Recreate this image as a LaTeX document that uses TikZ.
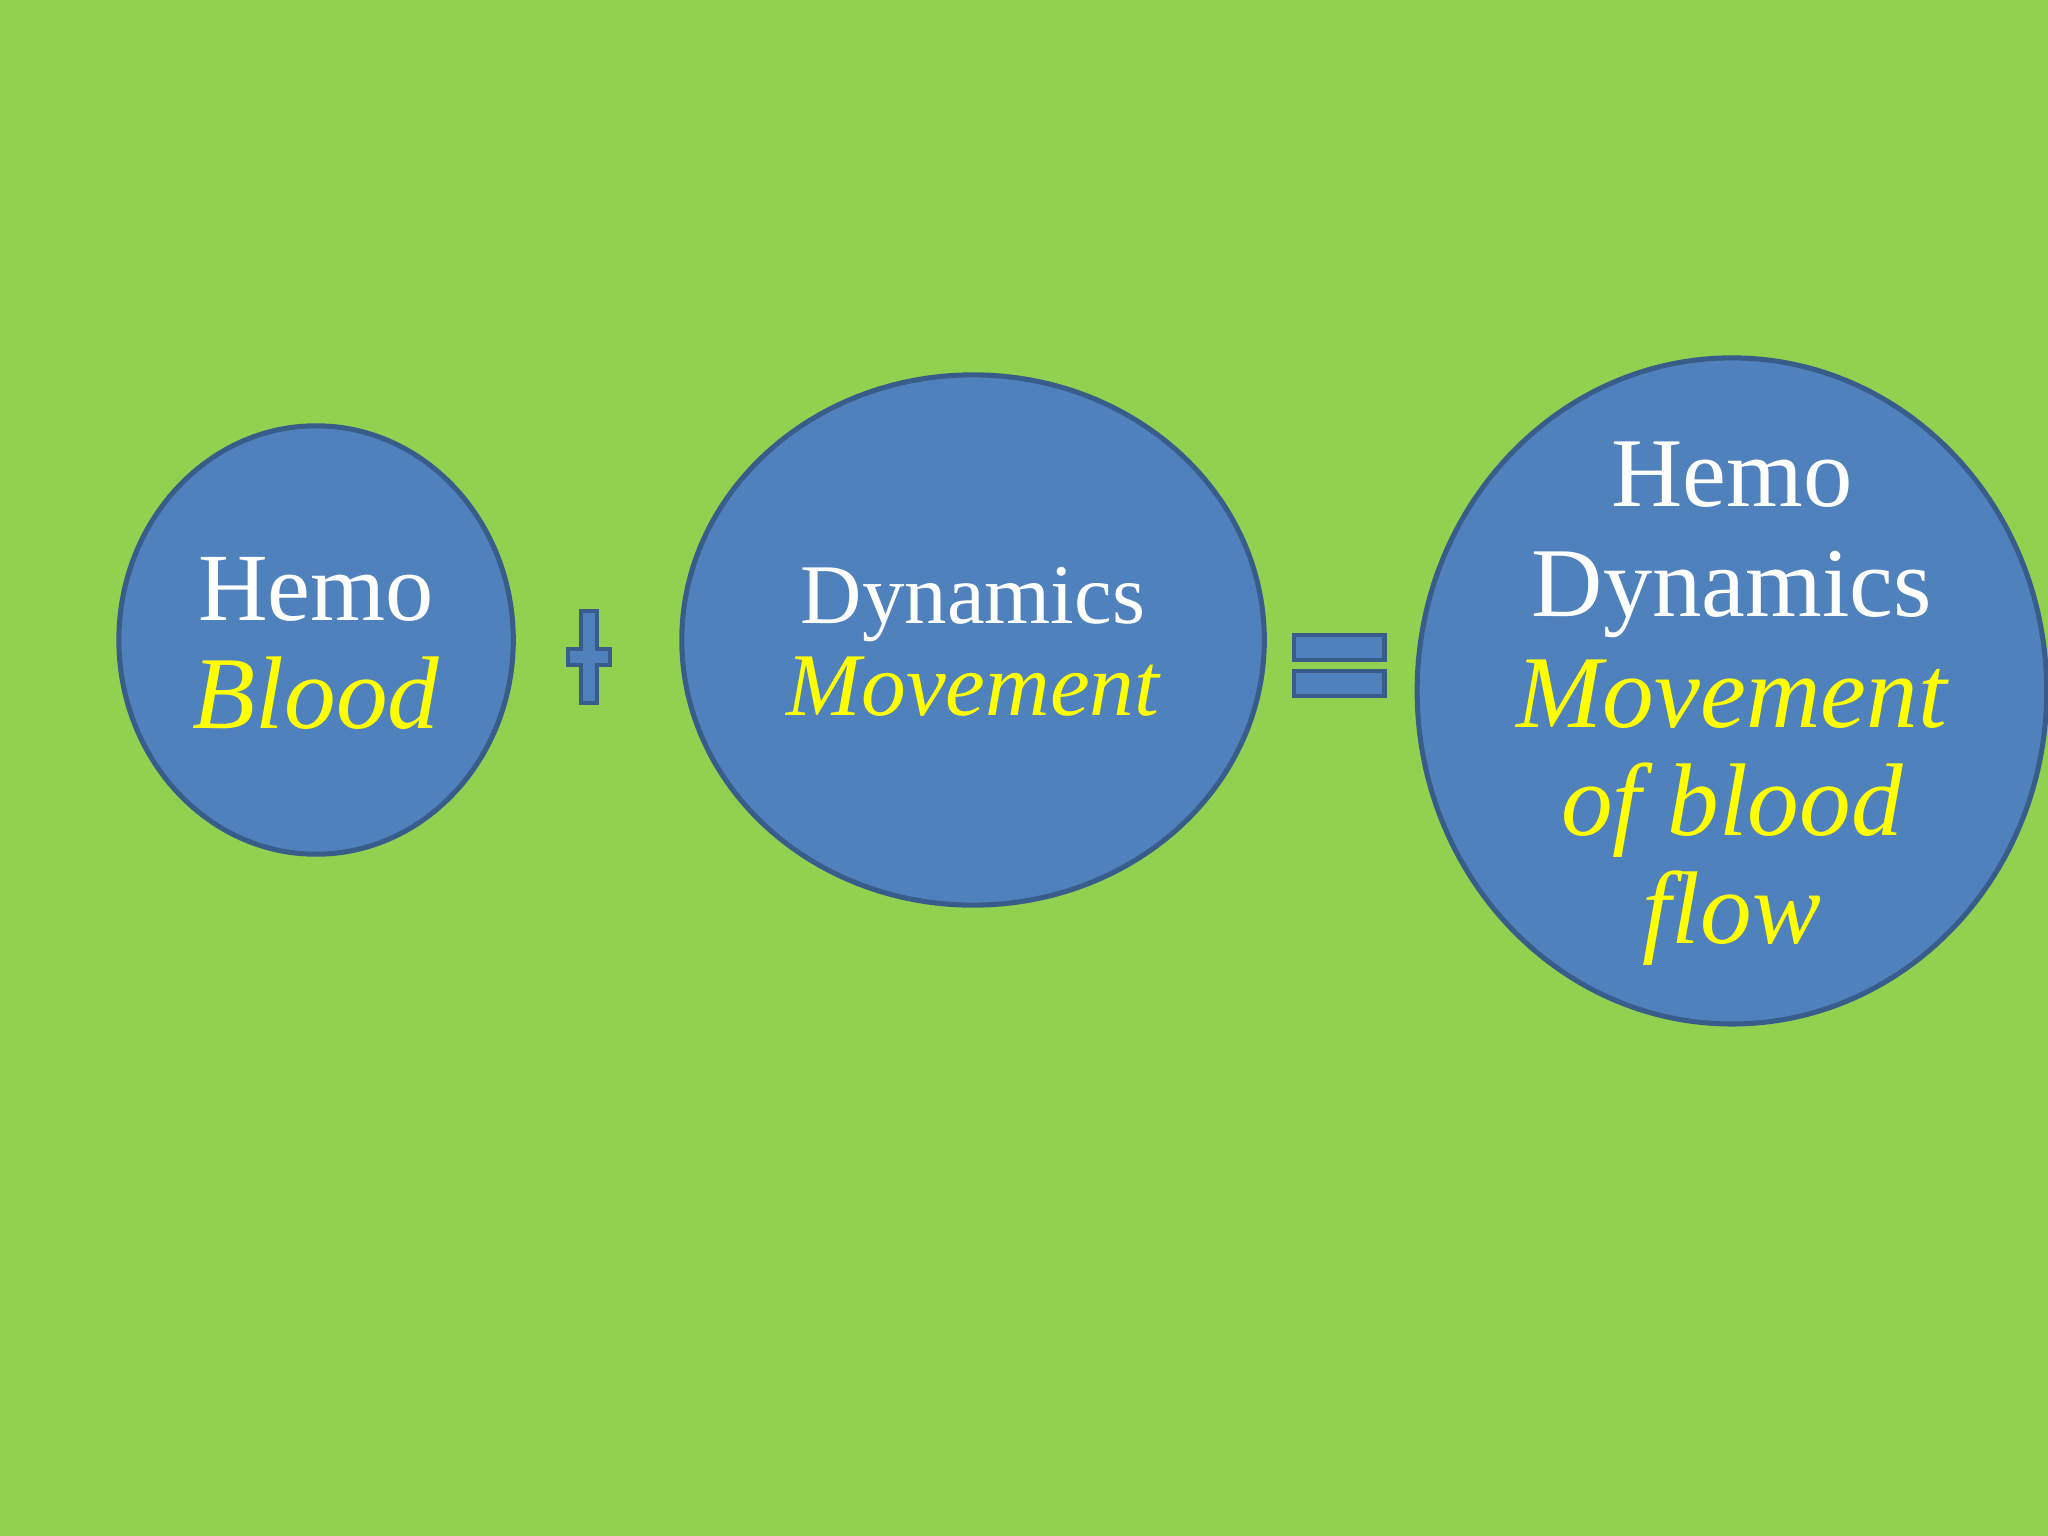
\documentclass[tikz,border=0pt]{standalone}
\usepackage{fontspec}
\setmainfont{Liberation Serif}
\usetikzlibrary{shapes.geometric}
\definecolor{bg}{HTML}{92D050}
\definecolor{fillb}{HTML}{4F81BD}
\definecolor{edgeb}{HTML}{385D8A}
\definecolor{yel}{HTML}{FFFF00}
\begin{document}
\begin{tikzpicture}[x=0.02cm,y=-0.02cm,
  circ/.style={draw=edgeb,line width=2.2pt,fill=fillb},
  wt/.style={text=white,anchor=base,inner sep=0pt},
  yt/.style={text=yel,anchor=base,inner sep=0pt,font=\itshape}]
\fill[bg] (0,0) rectangle (1568,1176);
\useasboundingbox (0,0) rectangle (1568,1176);
\draw[circ] (242,490) ellipse [x radius=151,y radius=164];
\draw[circ] (745,490) ellipse [x radius=223,y radius=203];
\draw[circ] (1326,529) ellipse [x radius=241,y radius=255];
% plus
\draw[circ,line width=1.8pt] (445,468) -- (457,468) -- (457,497) -- (467,497) -- (467,509) -- (457,509) -- (457,538) -- (445,538) -- (445,509) -- (435,509) -- (435,497) -- (445,497) -- cycle;
% equals
\draw[circ,line width=1.8pt] (991,486) rectangle (1060,505);
\draw[circ,line width=1.8pt] (991,514) rectangle (1060,533);
\node[wt,font=\fontsize{42}{50}\selectfont] (t1) at (242,475) {Hemo};
\node[yt,font=\fontsize{45}{50}\selectfont\itshape] (t2) at (242,558) {Blood};
\node[wt,font=\fontsize{37}{44}\selectfont] (t3) at (745,477) {Dynamics};
\node[yt,font=\fontsize{39}{44}\selectfont\itshape] (t4) at (745,548) {Movement};
\node[wt,font=\fontsize{43}{50}\selectfont] (t5) at (1326,388) {Hemo};
\node[wt,font=\fontsize{43}{50}\selectfont] (t6) at (1326,472) {Dynamics};
\node[yt,font=\fontsize{45}{50}\selectfont\itshape] (t7) at (1326,557) {Movement};
\node[yt,font=\fontsize{45}{50}\selectfont\itshape] (t8) at (1326,640) {of blood};
\node[yt,font=\fontsize{45}{50}\selectfont\itshape] (t9) at (1326,722) {flow};
\end{tikzpicture}
\end{document}
